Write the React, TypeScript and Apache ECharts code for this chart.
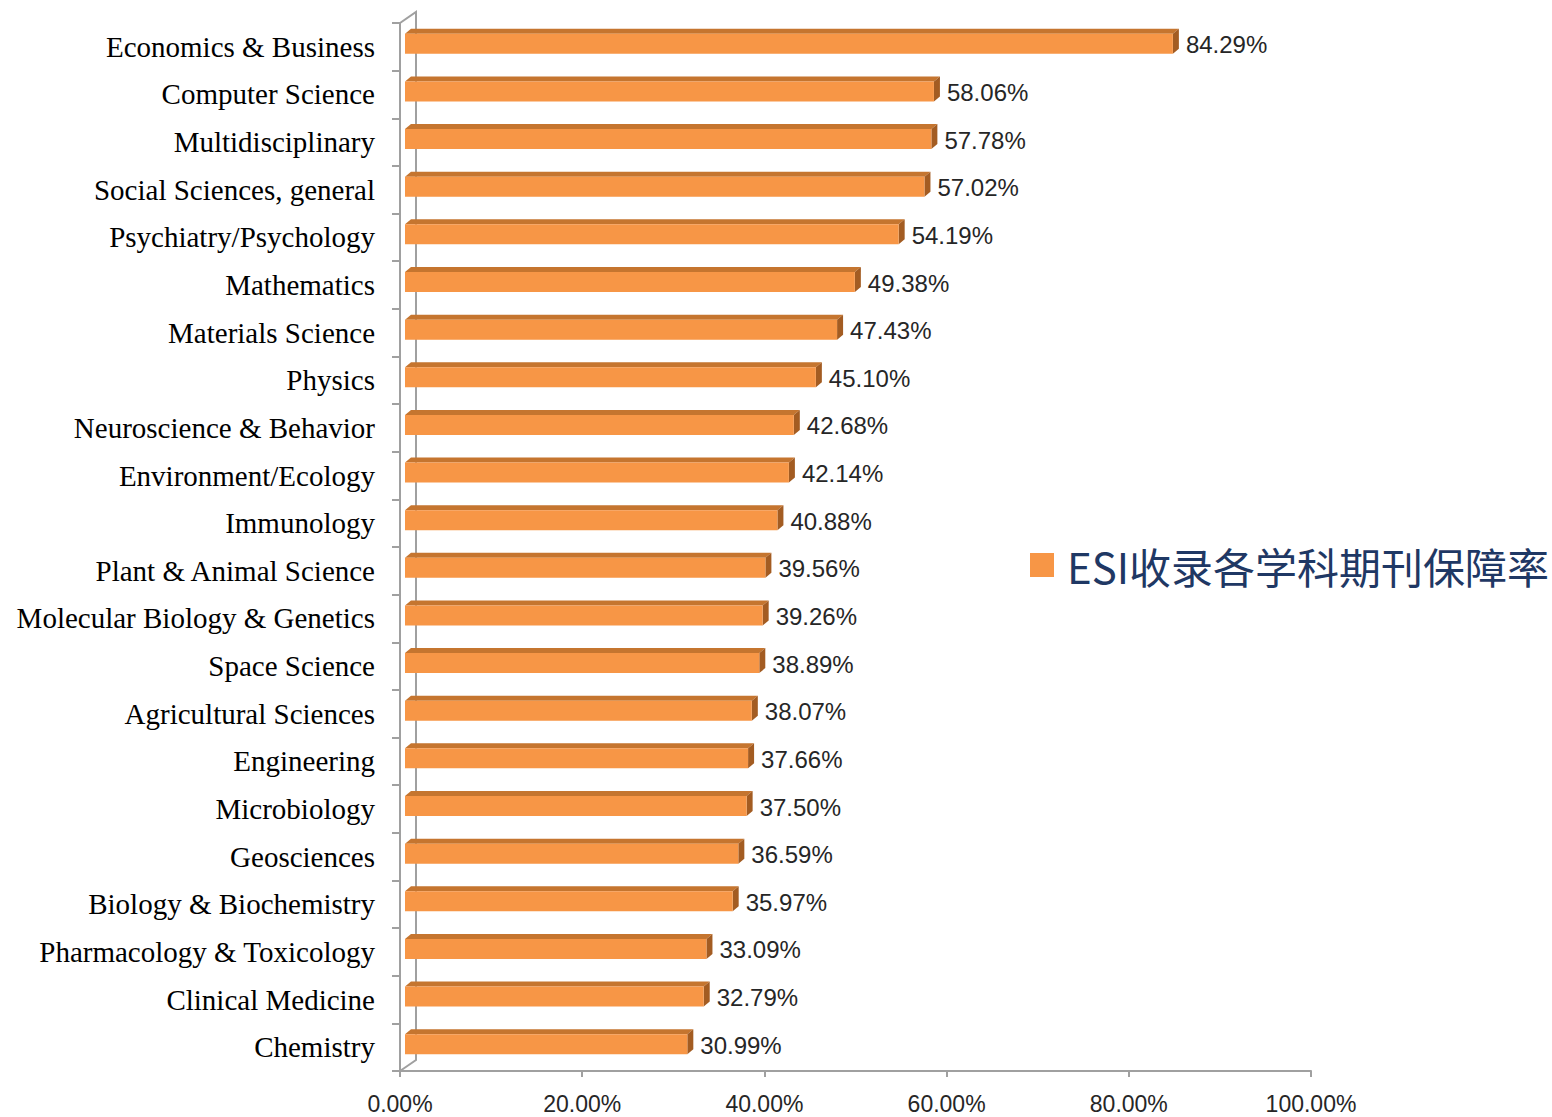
import React, { useEffect, useRef } from "react";
import * as echarts from "echarts";

const categories = [
  "Economics & Business",
  "Computer Science",
  "Multidisciplinary",
  "Social Sciences, general",
  "Psychiatry/Psychology",
  "Mathematics",
  "Materials Science",
  "Physics",
  "Neuroscience & Behavior",
  "Environment/Ecology",
  "Immunology",
  "Plant & Animal Science",
  "Molecular Biology & Genetics",
  "Space Science",
  "Agricultural Sciences",
  "Engineering",
  "Microbiology",
  "Geosciences",
  "Biology & Biochemistry",
  "Pharmacology & Toxicology",
  "Clinical Medicine",
  "Chemistry",
];

const values = [
  84.29, 58.06, 57.78, 57.02, 54.19, 49.38, 47.43, 45.1, 42.68, 42.14, 40.88,
  39.56, 39.26, 38.89, 38.07, 37.66, 37.5, 36.59, 35.97, 33.09, 32.79, 30.99,
];

const seriesName = "ESI收录各学科期刊保障率";
const xMin = 0;
const xMax = 100;
const xInterval = 20;

const GRID_LEFT = 400;
const GRID_TOP = 23;
const GRID_RIGHT = 241;
const GRID_BOTTOM = 46;
const W = 1552;
const H = 1117;
const AXIS_COLOR = "#A0A0A0";

export default function App() {
  const ref = useRef<HTMLDivElement>(null);
  useEffect(() => {
    if (!ref.current) return;
    const chart = echarts.init(ref.current, undefined, { renderer: "svg" });
    const bottomY = H - GRID_BOTTOM;
    const depthX = 16;
    const depthY = -11;
    chart.setOption({
      animation: false,
      backgroundColor: "#ffffff",
      grid: {
        left: GRID_LEFT,
        top: GRID_TOP,
        right: GRID_RIGHT,
        bottom: GRID_BOTTOM,
        containLabel: false,
      },
      legend: {
        data: [{ name: seriesName, icon: "rect" }],
        left: 1030,
        top: 544,
        padding: 0,
        itemWidth: 24,
        itemHeight: 24,
        textStyle: {
          fontSize: 42,
          color: "#1F3864",
          fontFamily: "Noto Sans CJK SC",
          padding: [0, 0, 0, 8],
        },
      },
      xAxis: {
        type: "value",
        min: xMin,
        max: xMax,
        interval: xInterval,
        splitLine: { show: false },
        axisLine: { show: true, lineStyle: { color: AXIS_COLOR, width: 2 } },
        axisTick: { show: true, length: 6, lineStyle: { color: AXIS_COLOR, width: 2 } },
        axisLabel: {
          formatter: (v: number) => v.toFixed(2) + "%",
          fontSize: 23,
          color: "#262626",
          fontFamily: "Liberation Sans",
          margin: 21,
        },
      },
      yAxis: {
        type: "category",
        data: categories,
        inverse: true,
        axisLine: { show: true, lineStyle: { color: AXIS_COLOR, width: 2 } },
        axisTick: { show: true, length: 8, lineStyle: { color: AXIS_COLOR, width: 2 } },
        axisLabel: {
          fontSize: 29,
          color: "#000000",
          fontFamily: "Liberation Serif",
          margin: 25,
        },
      },
      graphic: [
        {
          type: "polyline",
          shape: {
            points: [
              [GRID_LEFT, GRID_TOP],
              [GRID_LEFT + depthX, GRID_TOP + depthY],
              [GRID_LEFT + depthX, bottomY + depthY],
              [GRID_LEFT, bottomY],
            ],
          },
          style: { stroke: AXIS_COLOR, lineWidth: 2, fill: "none" },
          z: 1,
        },
      ],
      series: [
        {
          type: "custom",
          name: seriesName,
          itemStyle: { color: "#F79646" },
          encode: { x: 0, y: 1 },
          data: values.map((v, i) => [v, i]),
          renderItem: (params: any, api: any) => {
            const v = api.value(0) as number;
            const idx = api.value(1) as number;
            const p0 = api.coord([0, idx]);
            const p1 = api.coord([v, idx]);
            const ox = 5;
            const oy = -3;
            const h = 20;
            const dx = 6;
            const dy = -5;
            const x0 = p0[0] + ox;
            const x1 = p1[0] + ox;
            const yc = p0[1] + oy;
            const yt = yc - h / 2;
            const yb = yc + h / 2;
            return {
              type: "group",
              children: [
                {
                  type: "polygon",
                  shape: {
                    points: [
                      [x0, yt],
                      [x0 + dx, yt + dy],
                      [x1 + dx, yt + dy],
                      [x1, yt],
                    ],
                  },
                  style: { fill: "#C5752F" },
                },
                {
                  type: "polygon",
                  shape: {
                    points: [
                      [x1, yt],
                      [x1 + dx, yt + dy],
                      [x1 + dx, yb + dy],
                      [x1, yb],
                    ],
                  },
                  style: { fill: "#A35C22" },
                },
                {
                  type: "rect",
                  shape: { x: x0, y: yt, width: x1 - x0, height: h },
                  style: { fill: "#F79646" },
                },
                {
                  type: "text",
                  style: {
                    text: v.toFixed(2) + "%",
                    x: x1 + 13,
                    y: yc + 1,
                    verticalAlign: "middle",
                    align: "left",
                    fontSize: 24,
                    fontFamily: "Liberation Sans",
                    fill: "#262626",
                  },
                },
              ],
            };
          },
        },
      ],
    });
    return () => chart.dispose();
  }, []);
  return (
    <div
      ref={ref}
      style={{ position: "fixed", left: 0, top: 0, width: W, height: H }}
    />
  );
}
